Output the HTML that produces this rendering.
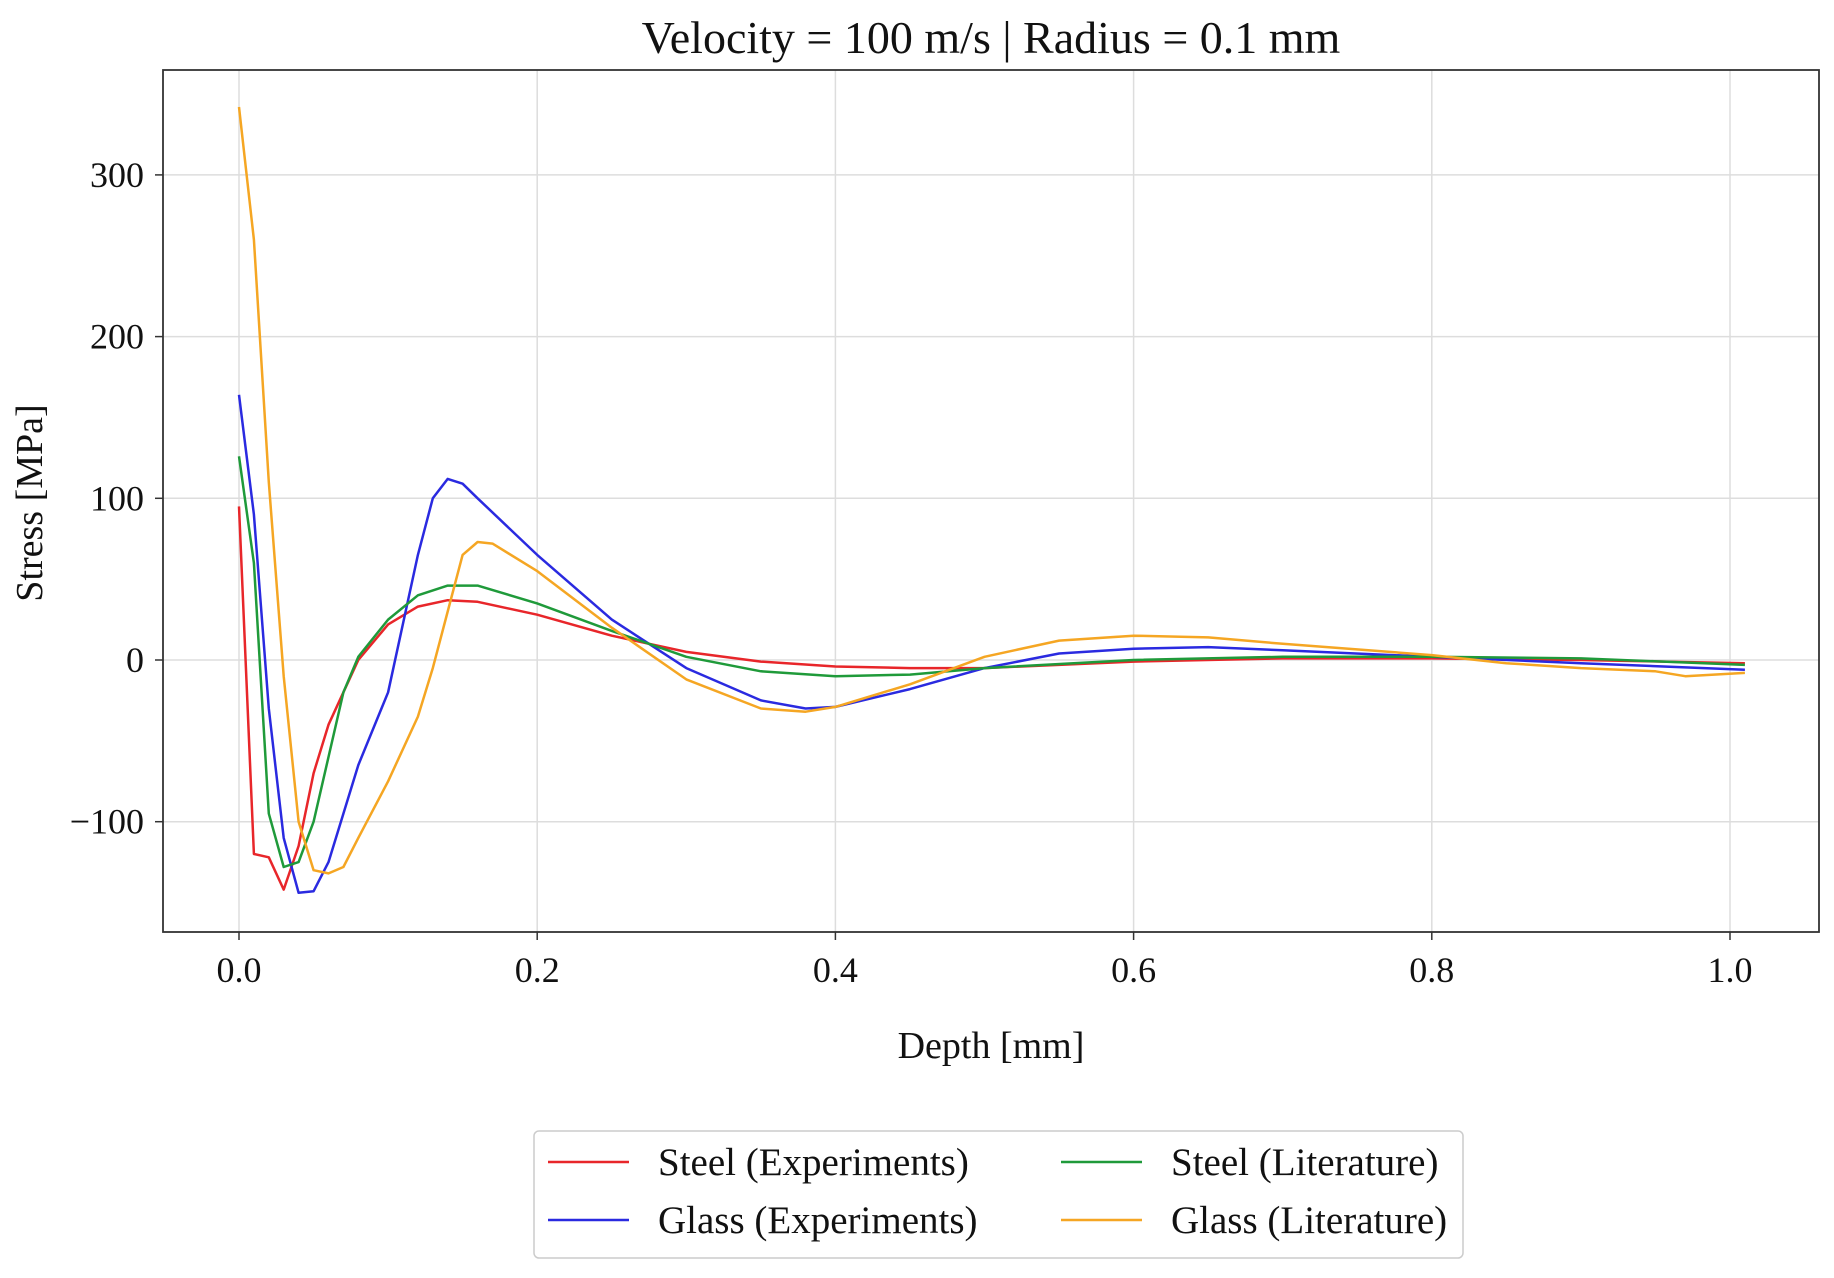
<!DOCTYPE html>
<html><head><meta charset="utf-8"><style>
body{margin:0;background:#fff;}
svg text{font-family:"Liberation Serif",serif;fill:#111;}
</style></head><body>
<svg width="1834" height="1273" viewBox="0 0 1834 1273">
<text x="991" y="53" font-size="46" text-anchor="middle">Velocity = 100 m/s | Radius = 0.1 mm</text>
<g id="grid"></g>
<g id="ticks"></g>
<g id="series"></g>
<rect x="163" y="70" width="1656" height="862" fill="none" stroke="#333" stroke-width="1.8"/>
<text x="991" y="1058" font-size="38" text-anchor="middle">Depth [mm]</text>
<text x="0" y="0" font-size="38" text-anchor="middle" transform="translate(42,503) rotate(-90)">Stress [MPa]</text>
<g>
<rect x="534" y="1131" width="929" height="127" rx="5" fill="#fff" stroke="#ccc" stroke-width="1.5"/>
<g id="legend"></g>
</g>
</svg>
<script>
const xTicks=[0,0.2,0.4,0.6,0.8,1.0];
const xTickLabels=["0.0","0.2","0.4","0.6","0.8","1.0"];
const yTicks=[-100,0,100,200,300];
const yTickLabels=["\u2212100","0","100","200","300"];
const seriesNames=["Steel (Experiments)","Glass (Experiments)","Steel (Literature)","Glass (Literature)"];
const seriesColors=["#e8262a","#2a2ae0","#1f9a3a","#f5a623"];
const steelExpX=[0,0.01,0.02,0.03,0.04,0.05,0.06,0.07,0.08,0.1,0.12,0.14,0.16,0.2,0.25,0.3,0.35,0.4,0.45,0.5,0.6,0.7,0.8,0.9,1.01];
const steelExpY=[95,-120,-122,-142,-115,-70,-40,-20,0,22,33,37,36,28,15,5,-1,-4,-5,-5,-1,1,1,0,-2];
const glassExpX=[0,0.01,0.02,0.03,0.04,0.05,0.06,0.07,0.08,0.1,0.12,0.13,0.14,0.15,0.16,0.2,0.25,0.3,0.35,0.38,0.4,0.45,0.5,0.55,0.6,0.65,0.7,0.8,0.9,1.01];
const glassExpY=[164,90,-30,-110,-144,-143,-125,-95,-65,-20,65,100,112,109,100,65,25,-5,-25,-30,-29,-18,-5,4,7,8,6,2,-2,-6];
const steelLitX=[0,0.01,0.02,0.03,0.04,0.05,0.06,0.07,0.08,0.1,0.12,0.14,0.16,0.2,0.25,0.3,0.35,0.4,0.45,0.5,0.6,0.7,0.8,0.9,1.01];
const steelLitY=[126,60,-95,-128,-125,-100,-60,-20,2,25,40,46,46,35,18,2,-7,-10,-9,-5,0,2,2,1,-3];
const glassLitX=[0,0.01,0.02,0.03,0.04,0.05,0.06,0.07,0.08,0.1,0.12,0.13,0.14,0.15,0.16,0.17,0.2,0.25,0.3,0.35,0.38,0.4,0.45,0.5,0.55,0.6,0.65,0.7,0.8,0.85,0.9,0.95,0.97,1.01];
const glassLitY=[342,260,110,-10,-100,-130,-132,-128,-110,-75,-35,-5,30,65,73,72,55,20,-12,-30,-32,-29,-15,2,12,15,14,10,3,-2,-5,-7,-10,-8];
const allX=[steelExpX,glassExpX,steelLitX,glassLitX];
const allY=[steelExpY,glassExpY,steelLitY,glassLitY];
const NS="http://www.w3.org/2000/svg";
function sx(v){return 239+1491*v;}
function sy(v){return 660-1.617*v;}
function mk(tag,attrs,parent){const e=document.createElementNS(NS,tag);for(const k in attrs)e.setAttribute(k,attrs[k]);parent.appendChild(e);return e;}
const grid=document.getElementById('grid'),ticks=document.getElementById('ticks'),ser=document.getElementById('series'),leg=document.getElementById('legend');
xTicks.forEach((v,i)=>{
 const g=mk('line',{x1:sx(v),x2:sx(v),y1:70,y2:932,stroke:'#ddd','stroke-width':1.5},grid);
 
 
 const t=mk('line',{x1:sx(v),x2:sx(v),y1:932,y2:940,stroke:'#333','stroke-width':1.5},ticks);
 
 
 const l=mk('text',{x:sx(v),y:982,'font-size':36,'text-anchor':'middle'},ticks);
 l.textContent=xTickLabels[i];
 
 
});
yTicks.forEach((v,i)=>{
 const g=mk('line',{x1:163,x2:1819,y1:sy(v),y2:sy(v),stroke:'#ddd','stroke-width':1.5},grid);
 
 
 const t=mk('line',{x1:155,x2:163,y1:sy(v),y2:sy(v),stroke:'#333','stroke-width':1.5},ticks);
 
 
 const l=mk('text',{x:144,y:sy(v)+12,'font-size':36,'text-anchor':'end'},ticks);
 l.textContent=yTickLabels[i];
 
 
});
allX.forEach((xs,i)=>{
 const pts=xs.map((x,j)=>sx(x).toFixed(1)+','+sy(allY[i][j]).toFixed(1)).join(' ');
 const p=mk('polyline',{points:pts,fill:'none',stroke:seriesColors[i],'stroke-width':2.5,'stroke-linejoin':'round'},ser);
 
 
});
const legPos=[[548,1162],[548,1220],[1061,1162],[1061,1220]];
seriesNames.forEach((n,i)=>{
 const [x,y]=legPos[i];
 const h=mk('line',{x1:x,x2:x+81,y1:y,y2:y,stroke:seriesColors[i],'stroke-width':2.5},leg);
 
 
 const t=mk('text',{x:x+110,y:y+13,'font-size':39},leg);
 t.textContent=n;
 
 
});
</script>
</body></html>
